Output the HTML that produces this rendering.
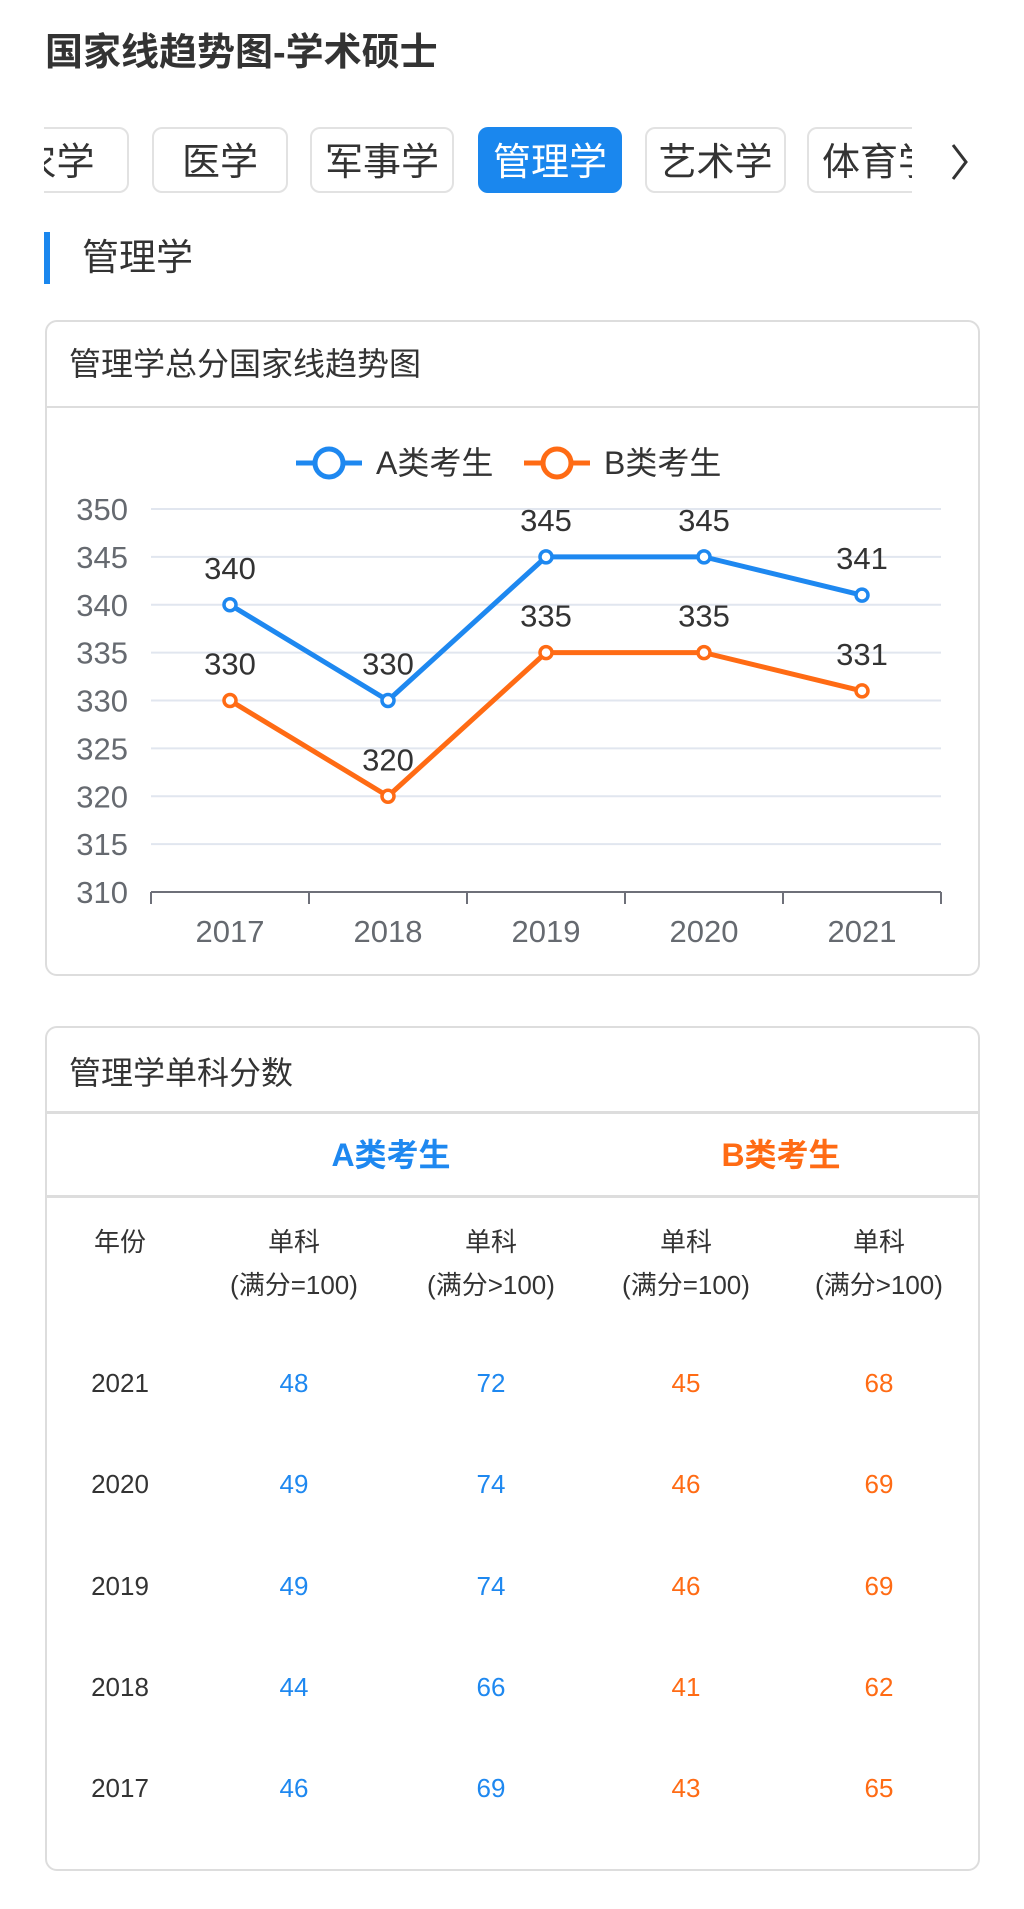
<!DOCTYPE html>
<html><head><meta charset="utf-8">
<style>
*{margin:0;padding:0;box-sizing:border-box}
body{width:1024px;height:1909px;background:#fff;position:relative;overflow:hidden;font-family:"Liberation Sans","Noto Sans CJK SC",sans-serif;color:#333}
.abs{position:absolute}
.tabs{position:absolute;left:44px;top:120px;width:868px;height:80px;overflow:hidden}
.tab{position:absolute;top:7px;height:66px;border:2px solid #e2e2e2;border-radius:10px;font-size:38px;line-height:68px;text-align:center;color:#333;white-space:nowrap}
.tab.on{background:#1a87ee;border-color:#1a87ee;color:#fff}
.card{position:absolute;left:45px;width:935px;border:2px solid #ddd;border-radius:12px;background:#fff}
.cell{position:absolute;font-size:26px;text-align:center;width:180px;margin-left:-90px}
</style></head><body>
<div class="abs" style="left:45px;top:30px;font-size:38px;font-weight:bold;color:#333;line-height:46px">国家线趋势图-学术硕士</div>

<div class="tabs">
  <div class="tab" style="left:-60px;width:145px">农学</div>
  <div class="tab" style="left:108px;width:136px">医学</div>
  <div class="tab" style="left:266px;width:144px">军事学</div>
  <div class="tab on" style="left:434px;width:144px">管理学</div>
  <div class="tab" style="left:601px;width:141px">艺术学</div>
  <div class="tab" style="left:763px;width:144px">体育学</div>
</div>
<svg class="abs" style="left:946px;top:140px" width="28" height="44"><polyline points="7,5 20,22 7,39" fill="none" stroke="#333" stroke-width="3"/></svg>

<div class="abs" style="left:44px;top:232px;width:6px;height:52px;background:#1a87ee"></div>
<div class="abs" style="left:82px;top:233px;font-size:37px;line-height:50px;color:#333">管理学</div>

<div class="card" style="top:320px;height:656px">
  <div class="abs" style="left:22px;top:19px;font-size:32px;line-height:46px">管理学总分国家线趋势图</div>
  <div class="abs" style="left:0;top:84px;width:931px;height:2px;background:#ddd"></div>
</div>

<svg id="chart" class="abs" style="left:0;top:0" width="1024" height="1000"></svg>

<div class="card" style="top:1026px;height:845px">
  <div class="abs" style="left:22px;top:22px;font-size:32px;line-height:46px">管理学单科分数</div>
  <div class="abs" style="left:0;top:83px;width:931px;height:3px;background:#ddd"></div>
  <div class="abs" style="left:0;top:167px;width:931px;height:3px;background:#ddd"></div>
</div>
<div id="table" class="abs" style="left:0;top:0;width:1024px;height:1909px"></div>

<script>
const years=["2017","2018","2019","2020","2021"];
const seriesA=[340,330,345,345,341];
const seriesB=[330,320,335,335,331];
const yTicks=[310,315,320,325,330,335,340,345,350];
const tableYears=["2021","2020","2019","2018","2017"];
const aEq100=[48,49,49,44,46];
const aGt100=[72,74,74,66,69];
const bEq100=[45,46,46,41,43];
const bGt100=[68,69,69,62,65];

const NS="http://www.w3.org/2000/svg";
const svg=document.getElementById('chart');
const X0=151,X1=941,Y0=892,Y1=509,YMIN=310,YMAX=350;
const band=(X1-X0)/years.length;
const xs=i=>X0+band*(i+0.5);
const ys=v=>Y0-(v-YMIN)/(YMAX-YMIN)*(Y0-Y1);
function mk(tag,attrs,parent){const e=document.createElementNS(NS,tag);for(const k in attrs)e.setAttribute(k,attrs[k]);(parent||svg).appendChild(e);return e;}
const BLUE="#1e88f0",ORANGE="#ff6b14";
const FF="Liberation Sans, Noto Sans CJK SC, sans-serif";

yTicks.forEach(t=>{
  if(t!==YMIN){const g=mk('line',{x1:X0,x2:X1,y1:ys(t),y2:ys(t),stroke:"#e1e6ef","stroke-width":2});
  
  }
  const l=mk('text',{x:128,y:ys(t)+11,"text-anchor":"end","font-size":31,fill:"#666a70","font-family":FF});
  l.textContent=t;
  
  
});
const ax=mk('line',{x1:X0,x2:X1,y1:Y0,y2:Y0,stroke:"#6e7079","stroke-width":2});


for(let i=0;i<=years.length;i++){
  const tk=mk('line',{x1:X0+band*i,x2:X0+band*i,y1:Y0,y2:Y0+12,stroke:"#6e7079","stroke-width":2});
  
  
}
years.forEach((y,i)=>{
  const t=mk('text',{x:xs(i),y:942,"text-anchor":"middle","font-size":31,fill:"#666a70","font-family":FF});
  t.textContent=y;
  
  
});
function series(vals,color,name){
  const p=mk('polyline',{points:vals.map((v,i)=>xs(i)+","+ys(v)).join(" "),fill:"none",stroke:color,"stroke-width":5,"stroke-linejoin":"round"});
  
  
  vals.forEach((v,i)=>{
    const c=mk('circle',{cx:xs(i),cy:ys(v),r:6,fill:"#fff",stroke:color,"stroke-width":3.5});
    
    
    const t=mk('text',{x:xs(i),y:ys(v)-26,"text-anchor":"middle","font-size":31,fill:"#333","font-family":FF});
    t.textContent=v;
    
    
  });
}
series(seriesA,BLUE,'series-a');
series(seriesB,ORANGE,'series-b');
function legend(x,color,label,name){
  const g=mk('g',{});
  
  
  mk('line',{x1:x,x2:x+66,y1:463,y2:463,stroke:color,"stroke-width":5},g);
  mk('circle',{cx:x+33,cy:463,r:14,fill:"#fff",stroke:color,"stroke-width":5},g);
  const t=mk('text',{x:x+80,y:474,"font-size":32,fill:"#333","font-family":FF},g);
  t.textContent=label;
}
legend(296,BLUE,"A类考生",'legend-a');
legend(524,ORANGE,"B类考生",'legend-b');

// table
const tb=document.getElementById('table');
function cell(x,y,txt,color,name,extra){
  const d=document.createElement('div');
  d.className='cell';
  d.style.left=x+'px';d.style.top=(y-16)+'px';d.style.color=color;d.style.lineHeight='32px';
  if(extra)Object.assign(d.style,extra);
  d.textContent=txt;
  
  
  tb.appendChild(d);
}
const cols=[120,294,491,686,879];
cell(391,1155,"A类考生",BLUE,'group-a-header',{fontWeight:'bold',fontSize:'32px'});
cell(781,1155,"B类考生",ORANGE,'group-b-header',{fontWeight:'bold',fontSize:'32px'});
cell(cols[0],1242,"年份","#333",'col-year-header');
const sub=["(满分=100)","(满分>100)","(满分=100)","(满分>100)"];
for(let c=1;c<5;c++){cell(cols[c],1242,"单科","#333",'col-subject-header');cell(cols[c],1285,sub[c-1],"#333",'col-subject-sub');}
tableYears.forEach((y,r)=>{
  const yy=1383+r*101.3;
  cell(cols[0],yy,y,"#333",'row-year');
  cell(cols[1],yy,aEq100[r],BLUE,'a-eq100-value');
  cell(cols[2],yy,aGt100[r],BLUE,'a-gt100-value');
  cell(cols[3],yy,bEq100[r],ORANGE,'b-eq100-value');
  cell(cols[4],yy,bGt100[r],ORANGE,'b-gt100-value');
});
</script>
</body></html>
